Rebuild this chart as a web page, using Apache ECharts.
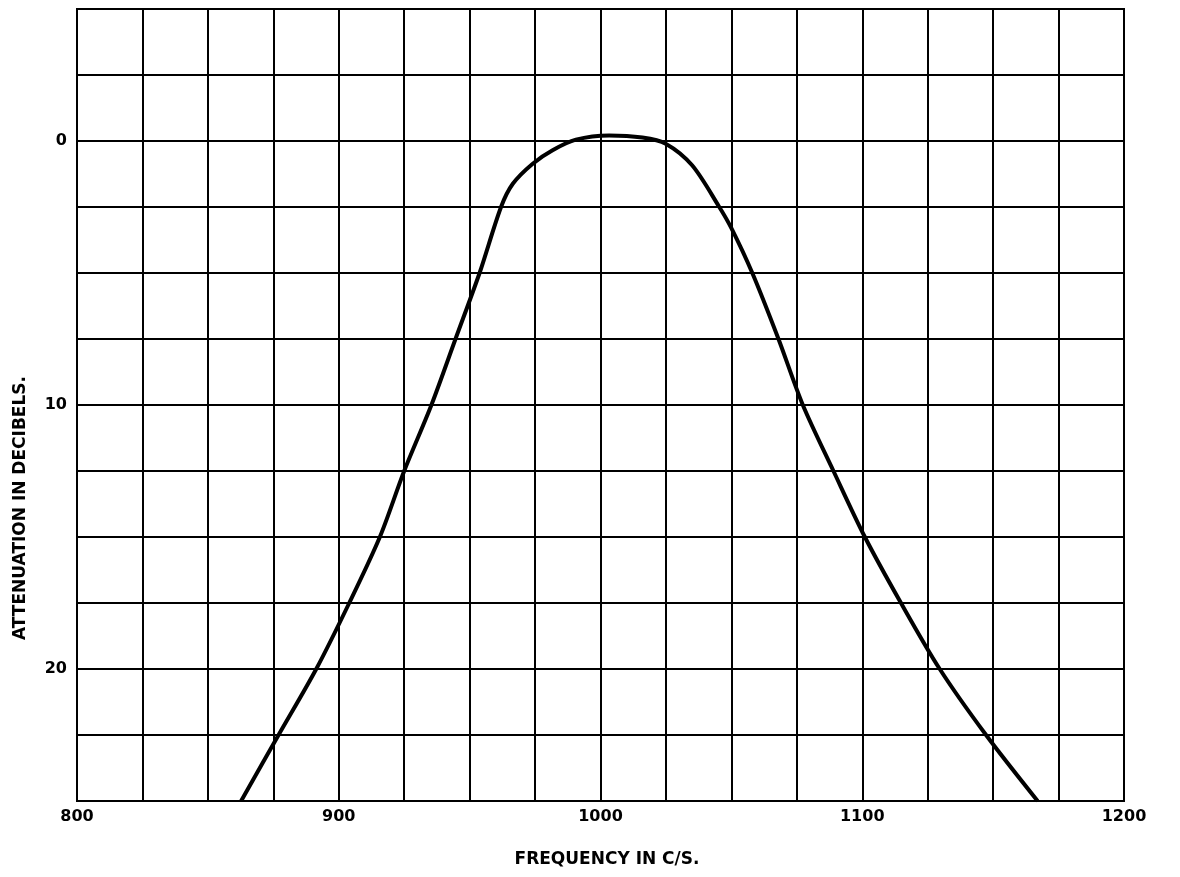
<!DOCTYPE html>
<html>
<head>
<meta charset="utf-8">
<script src="https://cdn.jsdelivr.net/npm/echarts@6/dist/echarts.min.js"></script>
<style>
html,body{margin:0;padding:0;background:#fff;}
#chart{width:1180px;height:877px;}
</style>
</head>
<body>
<div id="chart"></div>
<script>
// Frequency (c/s) of curve points
const frequency = [862.7, 877, 891.4, 904, 915.7, 925, 935.4, 944.6, 953.8, 962, 966.5, 974.1, 981.7, 990.6, 1003.3, 1016, 1024.9, 1035, 1045.2, 1050, 1058, 1068, 1077.3, 1089, 1101, 1114.8, 1129.6, 1147.3, 1167];
// Attenuation (dB) at those frequencies
const attenuation = [25, 22.5, 20, 17.5, 15, 12.5, 10, 7.5, 5.0, 2.5, 1.62, 0.86, 0.35, -0.05, -0.21, -0.13, 0.1, 0.92, 2.47, 3.3, 5.0, 7.5, 10, 12.5, 15, 17.5, 20, 22.5, 25];
// Labelled ticks
const xTickLabels = [800, 900, 1000, 1100, 1200];
const yTickLabels = [0, 10, 20];

const xTitle = 'FREQUENCY IN C/S.';
const yTitle = 'ATTENUATION IN DECIBELS.';

const points = frequency.map((f, i) => [f, attenuation[i]]);

const chart = echarts.init(document.getElementById('chart'), null, {renderer: 'canvas'});
const labelFont = {fontFamily: 'DejaVu Sans', fontWeight: 'bold', fontSize: 16, color: '#000'};

chart.setOption({
  backgroundColor: '#fff',
  animation: false,
  grid: {left: 77, right: 56, top: 9, bottom: 76, show: true, borderColor: '#000', borderWidth: 2, backgroundColor: 'transparent'},
  xAxis: {
    type: 'value', min: 800, max: 1200, interval: 25,
    axisLine: {show: true, lineStyle: {color: '#000', width: 2}},
    axisTick: {show: false},
    splitLine: {show: true, lineStyle: {color: '#000', width: 2}},
    axisLabel: Object.assign({margin: 8, formatter: v => xTickLabels.indexOf(v) >= 0 ? String(v) : ''}, labelFont)
  },
  yAxis: {
    type: 'value', inverse: true, min: -5, max: 25, interval: 2.5,
    axisLine: {show: true, lineStyle: {color: '#000', width: 2}},
    axisTick: {show: false},
    splitLine: {show: true, lineStyle: {color: '#000', width: 2}},
    axisLabel: Object.assign({margin: 10, formatter: v => yTickLabels.indexOf(v) >= 0 ? String(v) : ''}, labelFont)
  },
  graphic: [
    {type: 'text', x: 607, y: 860, style: {text: xTitle, font: 'bold 17px "DejaVu Sans"', fill: '#000', align: 'center', verticalAlign: 'middle'}},
    {type: 'text', x: 21, y: 508, rotation: Math.PI / 2, style: {text: yTitle, font: 'bold 17px "DejaVu Sans"', fill: '#000', align: 'center', verticalAlign: 'middle'}}
  ],
  series: [{
    type: 'line', data: points, smooth: 0.3, showSymbol: false,
    lineStyle: {color: '#000', width: 4}
  }]
});
</script>
</body>
</html>
